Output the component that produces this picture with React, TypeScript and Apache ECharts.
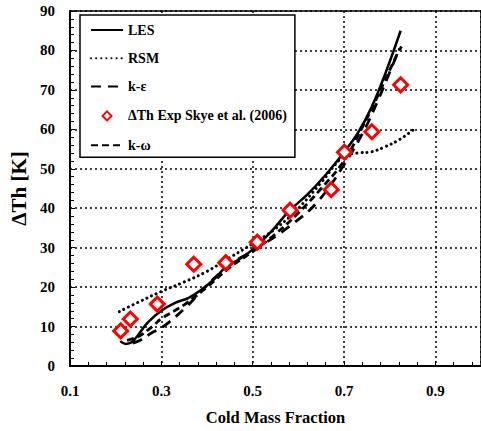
import { useEffect, useRef } from 'react';
import * as echarts from 'echarts';

// LES (solid)
const lesX = [0.21, 0.222, 0.235, 0.25, 0.27, 0.302, 0.33, 0.36, 0.39, 0.42, 0.44, 0.47, 0.505, 0.54, 0.58, 0.62, 0.66, 0.70, 0.73, 0.76, 0.79, 0.824];
const lesY = [6.3, 5.6, 6.0, 8.0, 11.0, 14.2, 16.0, 17.3, 19.5, 22.5, 25.0, 27.0, 30.0, 34.0, 39.3, 43.5, 48.5, 54.2, 59.0, 65.5, 74.0, 85.0];

// RSM (dotted)
const rsmX = [0.208, 0.25, 0.30, 0.35, 0.40, 0.45, 0.50, 0.55, 0.60, 0.65, 0.70, 0.73, 0.76, 0.79, 0.82, 0.851];
const rsmY = [13.8, 16.2, 18.9, 21.3, 24.0, 27.5, 31.0, 34.8, 40.0, 46.5, 53.2, 54.0, 54.3, 55.6, 57.3, 59.8];

// k-epsilon (long dash)
const keX = [0.237, 0.255, 0.28, 0.302, 0.353, 0.40, 0.454, 0.505, 0.584, 0.642, 0.70, 0.743, 0.775, 0.797, 0.815, 0.826];
const keY = [5.8, 6.6, 8.5, 9.8, 14.8, 20.5, 26.0, 29.5, 35.7, 41.6, 51.0, 59.5, 67.5, 73.6, 78.6, 81.0];

// k-omega (short dash)
const kwX = [0.225, 0.25, 0.28, 0.30, 0.35, 0.40, 0.45, 0.50, 0.55, 0.60, 0.65, 0.70, 0.74, 0.77, 0.80, 0.822];
const kwY = [6.5, 7.5, 10.0, 12.0, 15.5, 20.0, 25.0, 29.0, 33.5, 38.8, 45.0, 52.0, 60.5, 67.5, 75.0, 80.5];

// Experimental data, Skye et al. (2006)
const expX = [0.211, 0.232, 0.291, 0.371, 0.441, 0.51, 0.582, 0.672, 0.701, 0.761, 0.824];
const expY = [8.9, 11.9, 15.7, 25.8, 26.2, 31.4, 39.5, 44.7, 54.2, 59.4, 71.3];

const legendNames = ['LES', 'RSM', 'k-ε', 'ΔTh Exp Skye et al. (2006)', 'k-ω'];
const expName = legendNames[3];

const pairs = (xs: number[], ys: number[]) => xs.map((x, i) => [x, ys[i]]);

const FONT = 'Liberation Serif';

export default function App() {
  const ref = useRef<HTMLDivElement>(null);
  useEffect(() => {
    document.body.style.margin = '0';
    const chart = echarts.init(ref.current!, null, { renderer: 'svg' });
    const lineBase = {
      type: 'line' as const,
      smooth: 0.4,
      symbol: 'none',
      showSymbol: false,
      z: 3,
    };
    chart.setOption({
      animation: false,
      backgroundColor: '#fff',
      textStyle: { fontFamily: FONT },
      grid: {
        left: 70,
        top: 11,
        width: 415,
        height: 357,
        show: true,
        borderColor: '#000',
        borderWidth: 1.5,
      },
      legend: {
        orient: 'vertical',
        left: 80,
        top: 15,
        backgroundColor: '#fff',
        borderColor: '#000',
        borderWidth: 1.5,
        borderRadius: 0,
        padding: [8, 8, 5, 10],
        itemWidth: 32,
        itemHeight: 14,
        itemGap: 14.3,
        textStyle: { fontFamily: FONT, fontWeight: 'bold', fontSize: 14, color: '#000' },
        data: legendNames.map((n) =>
          n === expName
            ? { name: n, icon: 'path://M0,0M32,14M16,2.5L20.5,7L16,11.5L11.5,7Z' }
            : { name: n, itemStyle: { opacity: 0 } }
        ),
      },
      xAxis: {
        type: 'value',
        min: 0.1,
        max: 1.0,
        interval: 0.2,
        name: 'Cold Mass Fraction',
        nameLocation: 'middle',
        nameGap: 43,
        nameTextStyle: { fontFamily: FONT, fontWeight: 'bold', fontSize: 16.5, color: '#000' },
        axisLine: { show: true, lineStyle: { color: '#000', width: 2 } },
        axisTick: { show: true, inside: true, length: 5, lineStyle: { color: '#000', width: 1 } },
        minorTick: { show: true, splitNumber: 5, length: 4, lineStyle: { color: '#000', width: 1 } },
        axisLabel: {
          margin: 17,
          fontFamily: FONT,
          fontWeight: 'bold',
          fontSize: 15,
          color: '#000',
          showMaxLabel: false,
        },
        splitLine: { show: true, lineStyle: { color: '#000', width: 1.5, type: [2, 3] } },
      },
      yAxis: {
        type: 'value',
        min: 0,
        max: 90,
        interval: 10,
        name: 'ΔTh [K]',
        nameLocation: 'middle',
        nameGap: 40,
        nameTextStyle: { fontFamily: FONT, fontWeight: 'bold', fontSize: 21, color: '#000' },
        axisLine: { show: true, lineStyle: { color: '#000', width: 2 } },
        axisTick: { show: true, inside: true, length: 5, lineStyle: { color: '#000', width: 1 } },
        minorTick: { show: true, splitNumber: 5, length: 4, lineStyle: { color: '#000', width: 1 } },
        axisLabel: { margin: 15, fontFamily: FONT, fontWeight: 'bold', fontSize: 15, color: '#000' },
        splitLine: { show: true, lineStyle: { color: '#000', width: 1.5, type: [2, 3] } },
      },
      series: [
        {
          ...lineBase,
          name: 'LES',
          data: pairs(lesX, lesY),
          lineStyle: { color: '#000', width: 2.5, type: 'solid' },
          itemStyle: { color: '#000' },
        },
        {
          ...lineBase,
          name: 'RSM',
          data: pairs(rsmX, rsmY),
          lineStyle: { color: '#000', width: 3, type: [0.1, 5], cap: 'round' },
          itemStyle: { color: '#000' },
        },
        {
          ...lineBase,
          name: 'k-ε',
          data: pairs(keX, keY),
          lineStyle: { color: '#000', width: 2.8, type: [10, 7] },
          itemStyle: { color: '#000' },
        },
        {
          ...lineBase,
          name: 'k-ω',
          data: pairs(kwX, kwY),
          lineStyle: { color: '#000', width: 2.8, type: [7, 4] },
          itemStyle: { color: '#000' },
        },
        {
          type: 'scatter',
          name: expName,
          data: pairs(expX, expY),
          symbol: 'diamond',
          symbolSize: 14,
          z: 5,
          itemStyle: { color: '#fff', borderColor: '#ff0000', borderWidth: 3, opacity: 1 },
        },
      ],
    });
    return () => chart.dispose();
  }, []);
  return <div ref={ref} style={{ width: 481, height: 431 }} />;
}
